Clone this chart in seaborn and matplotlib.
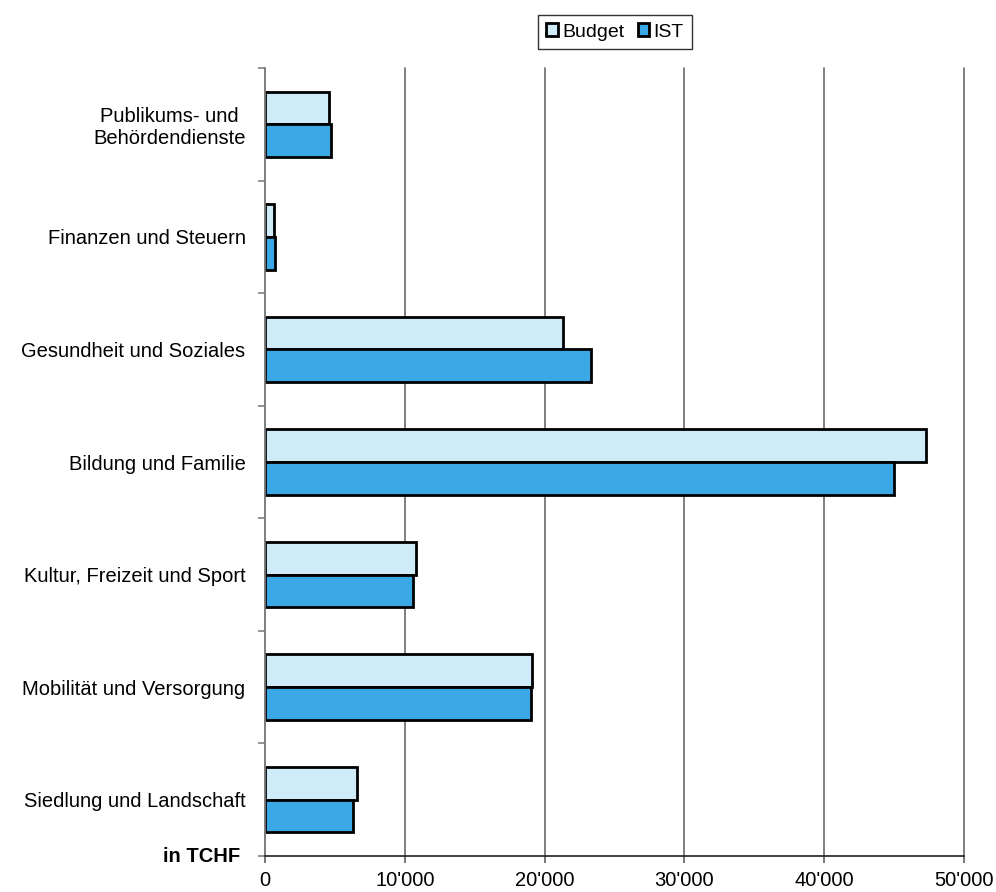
import pandas as pd
import numpy as np
import matplotlib
matplotlib.use('Agg')
import matplotlib.pyplot as plt
import seaborn as sns
from matplotlib.ticker import FuncFormatter
from matplotlib.patches import Patch

kategorien = ['Publikums- und\nBehördendienste', 'Finanzen und Steuern', 'Gesundheit und Soziales',
              'Bildung und Familie', 'Kultur, Freizeit und Sport', 'Mobilität und Versorgung',
              'Siedlung und Landschaft']
budget = [4600, 650, 21300, 47300, 10800, 19100, 6600]
ist = [4700, 700, 23300, 45000, 10600, 19000, 6300]

df = pd.DataFrame({'Kategorie': kategorien * 2,
                   'Wert': budget + ist,
                   'Serie': ['Budget'] * len(kategorien) + ['IST'] * len(kategorien)})

sns.set_style('white')
plt.rcParams['font.family'] = ['Liberation Sans', 'DejaVu Sans']
plt.rcParams['text.color'] = 'black'
plt.rcParams['xtick.color'] = 'black'
plt.rcParams['ytick.color'] = 'black'

fig = plt.figure(figsize=(9.96, 8.92), dpi=100)
ax = fig.add_axes([265 / 996, 1 - 856 / 892, 699 / 996, 788 / 892])

farben = {'Budget': '#D0EBF8', 'IST': '#3AA8E4'}
sns.barplot(data=df, y='Kategorie', x='Wert', hue='Serie', palette=farben, orient='h',
            width=0.58, edgecolor='black', linewidth=2, ax=ax, legend=False, saturation=1)

ax.set_xlim(0, 50000)
ax.set_ylim(len(kategorien) - 0.5, -0.5)
ax.set_xticks(np.arange(0, 50001, 10000))
ax.xaxis.set_major_formatter(FuncFormatter(lambda v, p: '0' if v == 0 else f"{int(v):,}".replace(',', "'")))
ax.grid(axis='x', color='#6a6a6a', linewidth=1.2)
for gl in ax.get_xgridlines():
    gl.set_clip_on(False)
ax.set_axisbelow(True)
ax.set_xlabel('')
ax.set_ylabel('')

for s in ['top', 'right']:
    ax.spines[s].set_visible(False)
ax.spines['left'].set_color('#808080')
ax.spines['left'].set_linewidth(1.2)
ax.spines['bottom'].set_color('#202020')
ax.spines['bottom'].set_linewidth(1.2)

ax.tick_params(axis='y', which='major', length=0, labelsize=14.5, pad=14)
ax.set_yticks(np.arange(-0.5, len(kategorien), 1), minor=True)
ax.tick_params(axis='y', which='minor', length=5, width=1.2, color='#808080', direction='out', left=True)
ax.tick_params(axis='x', length=5, width=1.2, color='#606060', direction='out', labelsize=14.5, pad=6, bottom=True)

for lbl in ax.get_yticklabels():
    lbl.set_horizontalalignment('right')
    lbl.set_multialignment('center')

fig.text(240 / 996, 1 - 856 / 892, 'in TCHF', ha='right', va='center', fontsize=14.5, fontweight='bold')

handles = [Patch(facecolor=farben[k], edgecolor='black', linewidth=2) for k in ['Budget', 'IST']]
leg = fig.legend(handles, ['Budget', 'IST'], loc='center', bbox_to_anchor=(615 / 996, 1 - 32 / 892),
                 ncol=2, frameon=True, fancybox=False, fontsize=14, handlelength=0.6, handleheight=0.6,
                 handletextpad=0.2, columnspacing=0.7, borderpad=0.45)
leg.get_frame().set_edgecolor('black')
leg.get_frame().set_linewidth(1)

fig.savefig('out.png', dpi=100)
